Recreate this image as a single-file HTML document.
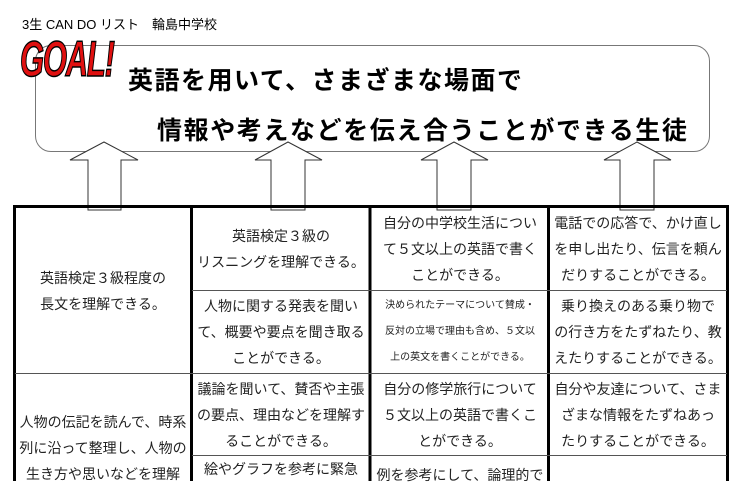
<!DOCTYPE html>
<html><head><meta charset="utf-8"><style>
body{margin:0;width:738px;height:481px;overflow:hidden;background:#fff;font-family:"Liberation Sans","Noto Sans CJK JP",sans-serif;position:relative}
.a{position:absolute}
.c{position:absolute;text-align:center;font-size:14px;line-height:26px;color:#222;display:flex;align-items:center;justify-content:center}
</style></head><body>
<div class="a" style="left:22px;top:14px;font-size:13px">3生 CAN DO リスト　輪島中学校</div>
<div class="a" style="left:35px;top:45px;width:673px;height:105px;border:1.5px solid #777;border-radius:16px"></div>
<div class="a" style="left:20px;top:30px;font:italic bold 50px 'Liberation Sans',sans-serif;color:#e01010;-webkit-text-stroke:1.5px #000;transform:scaleX(0.62);transform-origin:left;letter-spacing:-2px">GOAL!</div>
<div class="a" style="left:128px;top:61px;font-size:25px;font-weight:bold;letter-spacing:1.5px">英語を用いて、さまざまな場面で</div>
<div class="a" style="left:157px;top:111px;font-size:25px;font-weight:bold;letter-spacing:1.6px">情報や考えなどを伝え合うことができる生徒</div>
<svg class="a" style="left:0;top:0" width="738" height="481">
<g fill="#fff" stroke="#333" stroke-width="1">
<polygon points="104,142 138,160 121,160 121,210 88,210 88,160 70,160"/>
<polygon points="288,142 322,160 305,160 305,210 271,210 271,160 255,160"/>
<polygon points="454,142 488,160 471,160 471,210 437,210 437,160 421,160"/>
<polygon points="637,142 671,160 654,160 654,210 620,210 620,160 604,160"/>
</g>
<g stroke="#000">
<rect x="14.5" y="206.5" width="713" height="290" fill="none" stroke-width="3"/>
<line x1="191.5" y1="205" x2="191.5" y2="481" stroke-width="3"/>
<line x1="370" y1="205" x2="370" y2="481" stroke-width="3"/>
<line x1="548.5" y1="205" x2="548.5" y2="481" stroke-width="3"/>
<line x1="192" y1="290.5" x2="727" y2="290.5" stroke="#555"/>
<line x1="15" y1="373.5" x2="727" y2="373.5" stroke="#555"/>
<line x1="192" y1="455.5" x2="727" y2="455.5" stroke="#555"/>
</g>
</svg>
<div class="c" style="left:16px;top:208px;width:174px;height:165px">英語検定３級程度の<br>長文を理解できる。</div>
<div class="c" style="left:193px;top:208px;width:176px;height:82px">英語検定３級の<br>リスニングを理解できる。</div>
<div class="c" style="left:193px;top:291px;width:176px;height:82px">人物に関する発表を聞い<br>て、概要や要点を聞き取る<br>ことができる。</div>
<div class="c" style="left:372px;top:208px;width:176px;height:82px">自分の中学校生活につい<br>て５文以上の英語で書く<br>ことができる。</div>
<div class="c" style="left:372px;top:291px;width:176px;height:82px;font-size:10px">決められたテーマについて賛成・<br>反対の立場で理由も含め、５文以<br>上の英文を書くことができる。</div>
<div class="c" style="left:550px;top:208px;width:176px;height:82px">電話での応答で、かけ直し<br>を申し出たり、伝言を頼ん<br>だりすることができる。</div>
<div class="c" style="left:550px;top:291px;width:176px;height:82px">乗り換えのある乗り物で<br>の行き方をたずねたり、教<br>えたりすることができる。</div>
<div class="c" style="left:193px;top:374px;width:176px;height:81px">議論を聞いて、賛否や主張<br>の要点、理由などを理解す<br>ることができる。</div>
<div class="c" style="left:372px;top:374px;width:176px;height:81px">自分の修学旅行について<br>５文以上の英語で書くこ<br>とができる。</div>
<div class="c" style="left:550px;top:374px;width:176px;height:81px">自分や友達について、さま<br>ざまな情報をたずねあっ<br>たりすることができる。</div>
<div class="c" style="left:193px;top:456px;width:176px;height:26px;align-items:flex-start">絵やグラフを参考に緊急</div>
<div class="c" style="left:372px;top:462px;width:176px;height:26px;align-items:flex-start">例を参考にして、論理的で</div>
<div class="a" style="left:16px;top:409px;width:174px;text-align:center;font-size:14px;line-height:26px;color:#222">人物の伝記を読んで、時系<br>列に沿って整理し、人物の<br>生き方や思いなどを理解</div>
</body></html>
